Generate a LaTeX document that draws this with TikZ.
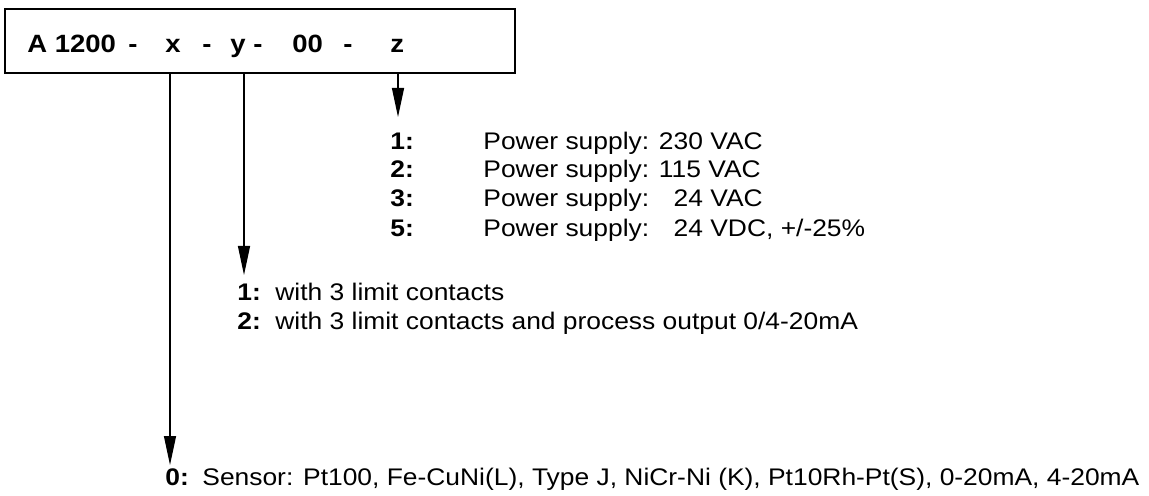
\documentclass[tikz,border=0pt]{standalone}
\usepackage{fontspec}
\setmainfont{Liberation Sans}[FakeStretch=1.1]
\usetikzlibrary{arrows.meta}
\tikzset{
  key/.style={anchor=base west, inner sep=0pt, font=\fontsize{12}{14}\selectfont\bfseries},
  code/.style={anchor=base west, inner sep=0pt, font=\fontsize{12.5}{15}\selectfont\bfseries},
  val/.style={anchor=base west, inner sep=0pt},
  arr/.style={line width=0.6pt, -{Triangle[length=14.5pt,width=6pt]}}
}

\begin{document}
\begin{tikzpicture}[x=0.5pt, y=-0.5pt, font=\fontsize{12}{14}\selectfont]
    \useasboundingbox (0,0) rectangle (1149,496);
    % order code box
    \node[draw=black, line width=1.2pt, minimum width=255pt, minimum height=32pt, inner sep=0pt] (box) at (260,41) {};
    \node[code] (num) at (27,53) {A 1200};
    \node[code] (d1) at (128,53) {-};
    \node[code] (xvar) at (165,53) {x};
    \node[code] (d2) at (202,53) {-};
    \node[code] (yvar) at (230,53) {y};
    \node[code] (d3) at (253,53) {-};
    \node[code] (zeros) at (292,53) {00};
    \node[code] (d4) at (343,53) {-};
    \node[code] (zvar) at (390,53) {z};
    % arrow tips
    \coordinate (xtip) at (170,465);
    \coordinate (ytip) at (244,275);
    \coordinate (ztip) at (398,117);
    \draw[arr] (xtip |- box.south) -- (xtip);
    \draw[arr] (ytip |- box.south) -- (ytip);
    \draw[arr] (ztip |- box.south) -- (ztip);
    % z: power supply
    \node[key] (Z1) at (390,150) {1:};
    \node[val] (PZ1) at (483,150) {Power supply: 230 VAC};
    \node[key] (Z2) at (390,178) {2:};
    \node[val] (PZ2) at (483,178) {Power supply: 115 VAC};
    \node[key] (Z3) at (390,207) {3:};
    \node[val] (PZ3) at (483,207) {Power supply: \hphantom{2}24 VAC};
    \node[key] (Z5) at (390,237) {5:};
    \node[val] (PZ5) at (483,237) {Power supply: \hphantom{2}24 VDC, +/-25\%};
    % y: outputs
    \node[key] (Y1) at (237,300) {1:};
    \node[val] (OY1) at (275,300) {with 3 limit contacts};
    \node[key] (Y2) at (237,329) {2:};
    \node[val] (OY2) at (275,329) {with 3 limit contacts and process output 0/4-20mA};
    % x: sensor
    \node[key] (X0) at (165,485) {0:};
    \node[val] (SX0) at (202,485) {Sensor: Pt100, Fe-CuNi(L), Type J, NiCr-Ni (K), Pt10Rh-Pt(S), 0-20mA, 4-20mA};
\end{tikzpicture}
\end{document}
